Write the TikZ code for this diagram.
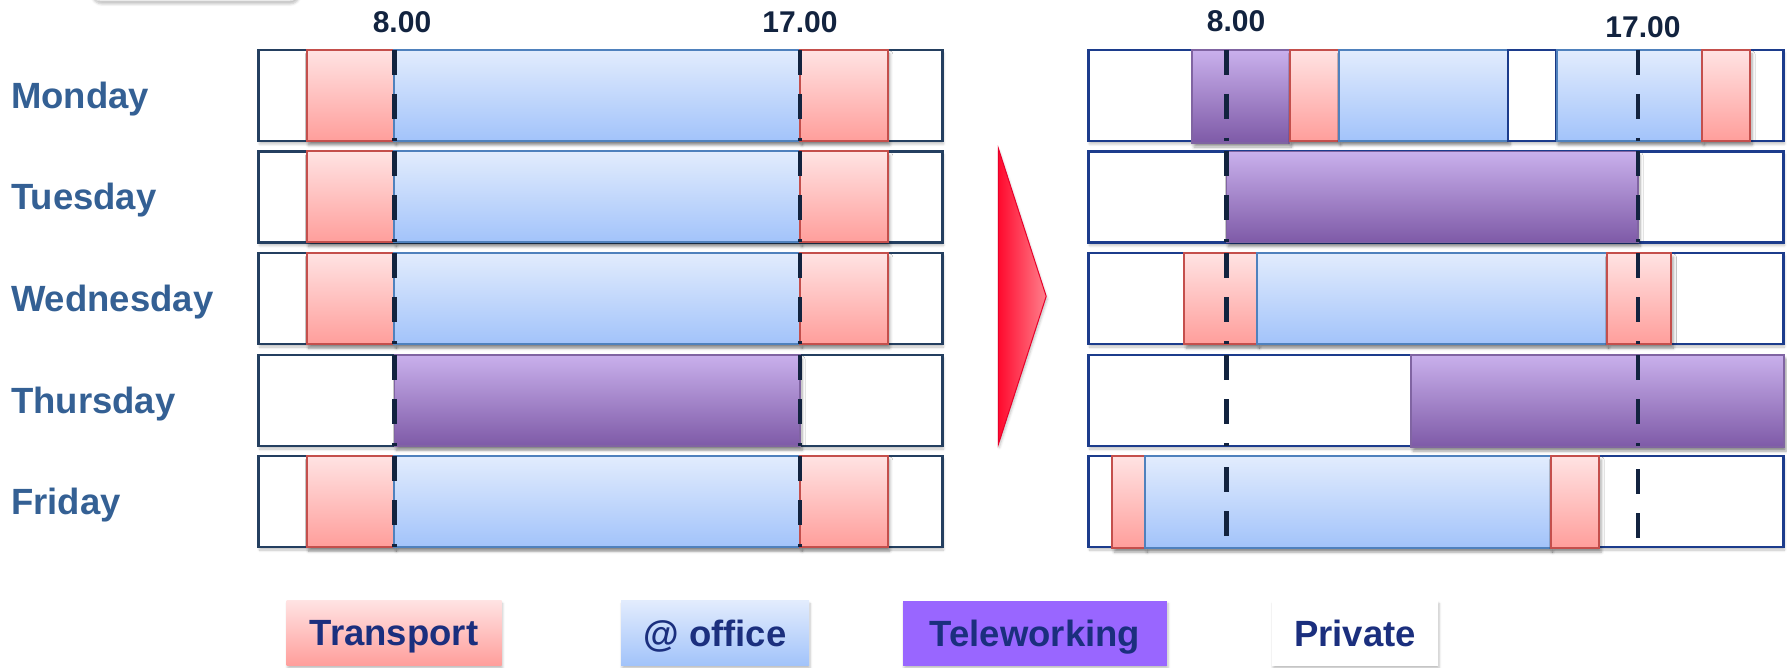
\documentclass[tikz,border=0pt]{standalone}
\usepackage{fontspec}
\setmainfont{Liberation Sans}
\usetikzlibrary{shadows.blur}
\definecolor{dayblue}{HTML}{346094}
\definecolor{navy}{HTML}{12233F}
\definecolor{legnavy}{HTML}{1B2F7E}
\definecolor{trtop}{HTML}{FFE3E3}
\definecolor{trbot}{HTML}{FF9E9B}
\definecolor{trbord}{HTML}{C44F4C}
\definecolor{oftop}{HTML}{E2ECFD}
\definecolor{ofbot}{HTML}{A2C3FA}
\definecolor{ofbord}{HTML}{4F81BD}
\definecolor{tltop}{HTML}{C9B0EC}
\definecolor{tlmid}{HTML}{A68DCB}
\definecolor{tlbot}{HTML}{7E5AA7}
\definecolor{tlbord}{HTML}{8064A2}
\definecolor{tlleg}{HTML}{9966FF}
\definecolor{boxL}{HTML}{243F60}
\definecolor{boxR}{HTML}{1C3C8C}
\definecolor{arrL}{HTML}{FF0A2E}
\definecolor{arrR}{HTML}{FF808C}
\definecolor{arrB}{HTML}{E8002A}
\tikzset{
  shad/.style={blur shadow={shadow xshift=2pt, shadow yshift=-4pt, shadow blur steps=6, shadow opacity=35, shadow blur radius=3pt}},
  lshad/.style={blur shadow={shadow xshift=1pt, shadow yshift=-3pt, shadow blur steps=5, shadow opacity=25, shadow blur radius=2.5pt}},
  transport/.style={shad, draw=trbord, line width=2pt, top color=trtop, bottom color=trbot},
  office/.style={shad, draw=ofbord, line width=2pt, top color=oftop, bottom color=ofbot},
  telework/.style={shad, draw=tlbord, line width=1.5pt, top color=tltop, middle color=tlmid, bottom color=tlbot},
  privR/.style={draw=boxR, line width=2.5pt, fill=white},
  rowL/.style={lshad, draw=boxL, line width=2.5pt, fill=white},
  rowR/.style={lshad, draw=boxR, line width=2.5pt, fill=white},
  dashline/.style={draw=navy, line width=4.5pt, dash pattern=on 25pt off 19pt},
  day/.style={font=\fontsize{36.5}{40}\selectfont\bfseries, text=dayblue, inner sep=0pt, anchor=base west},
  hour/.style={font=\fontsize{30}{34}\selectfont\bfseries, text=navy, inner sep=0pt},
  legend/.style={lshad, minimum height=65pt, inner sep=0pt, text depth=0pt, font=\fontsize{36.5}{40}\selectfont\bfseries, text=legnavy},
}
\begin{document}
\begin{tikzpicture}[x=1pt, y=-1pt]
\useasboundingbox (0,0) rectangle (1787,668);

% partial box at the top left
\draw[lshad, draw=black!12, line width=1pt, fill=white, rounded corners=10pt] (91,-40) rectangle (299,1);

% day labels
\node[day] (mon) at (11,108.5) {Monday};
\node[day] (tue) at (11,210) {Tuesday};
\node[day] (wed) at (11,311.5) {Wednesday};
\node[day] (thu) at (11,413.5) {Thursday};
\node[day] (fri) at (11,514.5) {Friday};

% hour labels
\node[hour] (h8L) at (402,22) {8.00};
\node[hour] (h17L) at (800,22) {17.00};
\node[hour] (h8R) at (1236,21) {8.00};
\node[hour] (h17R) at (1643,27) {17.00};

% ---------- left panel ----------
\foreach \t in {50,151.5,253,456}{
  \draw[rowL] (258.5,\t) rectangle (942.5,\t+91);
  \draw[transport] (306.6,\t) rectangle (394.3,\t+91);
  \draw[office] (394.3,\t) rectangle (800,\t+91);
  \draw[transport] (800,\t) rectangle (887.8,\t+91);
  \draw[dashline] (394.3,\t) -- (394.3,\t+91);
  \draw[dashline] (800,\t) -- (800,\t+91);
}
\draw[rowL] (258.5,355) rectangle (942.5,446);
\draw[telework] (394.3,355) rectangle (800,446);
\draw[dashline] (394.3,355) -- (394.3,446);
\draw[dashline] (800,355) -- (800,446);

% ---------- arrow ----------
\path[lshad, draw=arrB, line width=1pt, left color=arrL, right color=arrR]
  (998.3,148.2) -- (1046.2,296.3) -- (998.3,444.5) -- cycle;

% ---------- right panel ----------
% Monday
\draw[rowR] (1088.5,50) rectangle (1783.5,141);
\draw[telework] (1192,50) rectangle (1289.5,143);
\draw[transport] (1289.5,50) rectangle (1338.5,141);
\draw[office] (1338.5,50) rectangle (1508,141);
\draw[privR] (1508,50) rectangle (1556.5,141);
\draw[office] (1556.5,50) rectangle (1702,141);
\draw[transport] (1702,50) rectangle (1750,141);
\draw[dashline] (1226.3,50) -- (1226.3,141);
\draw[dashline] (1638,50) -- (1638,141);
% Tuesday
\draw[rowR] (1088.5,151.5) rectangle (1783.5,242.5);
\draw[telework] (1226.3,151.5) rectangle (1638,242.5);
\draw[dashline] (1226.3,151.5) -- (1226.3,242.5);
\draw[dashline] (1638,151.5) -- (1638,242.5);
% Wednesday
\draw[rowR] (1088.5,253) rectangle (1783.5,344);
\draw[transport] (1184.3,253) rectangle (1257.4,344);
\draw[office] (1257.4,253) rectangle (1606.7,344);
\draw[transport] (1606.7,253) rectangle (1671.3,344);
\draw[dashline] (1226.3,253) -- (1226.3,344);
\draw[dashline] (1638,253) -- (1638,344);
% Thursday
\draw[rowR] (1088.5,355) rectangle (1783.5,446);
\draw[telework] (1411,355) rectangle (1784,447);
\draw[dashline] (1226.3,355) -- (1226.3,446);
\draw[dashline] (1638,355) -- (1638,446);
% Friday
\draw[rowR] (1088.5,456) rectangle (1783.5,547);
\draw[transport] (1112.3,456) rectangle (1145.1,548);
\draw[office] (1145.1,456) rectangle (1550.5,548);
\draw[transport] (1550.5,456) rectangle (1599.2,548);
\draw[dashline, dash phase=-11pt] (1226.3,456) -- (1226.3,547);
\draw[dashline, dash phase=-13pt] (1638,456) -- (1638,547);

% ---------- legend ----------
\node[legend, minimum width=215pt, top color=trtop, bottom color=trbot] (lgT) at (394,633) {Transport};
\node[legend, minimum width=188pt, top color=oftop, bottom color=ofbot] (lgO) at (715,633) {@ office};
\node[legend, minimum width=264pt, fill=tlleg] (lgW) at (1035,633) {Teleworking};
\node[legend, minimum width=166pt, fill=white] (lgP) at (1355,633) {Private};
\end{tikzpicture}
\end{document}
